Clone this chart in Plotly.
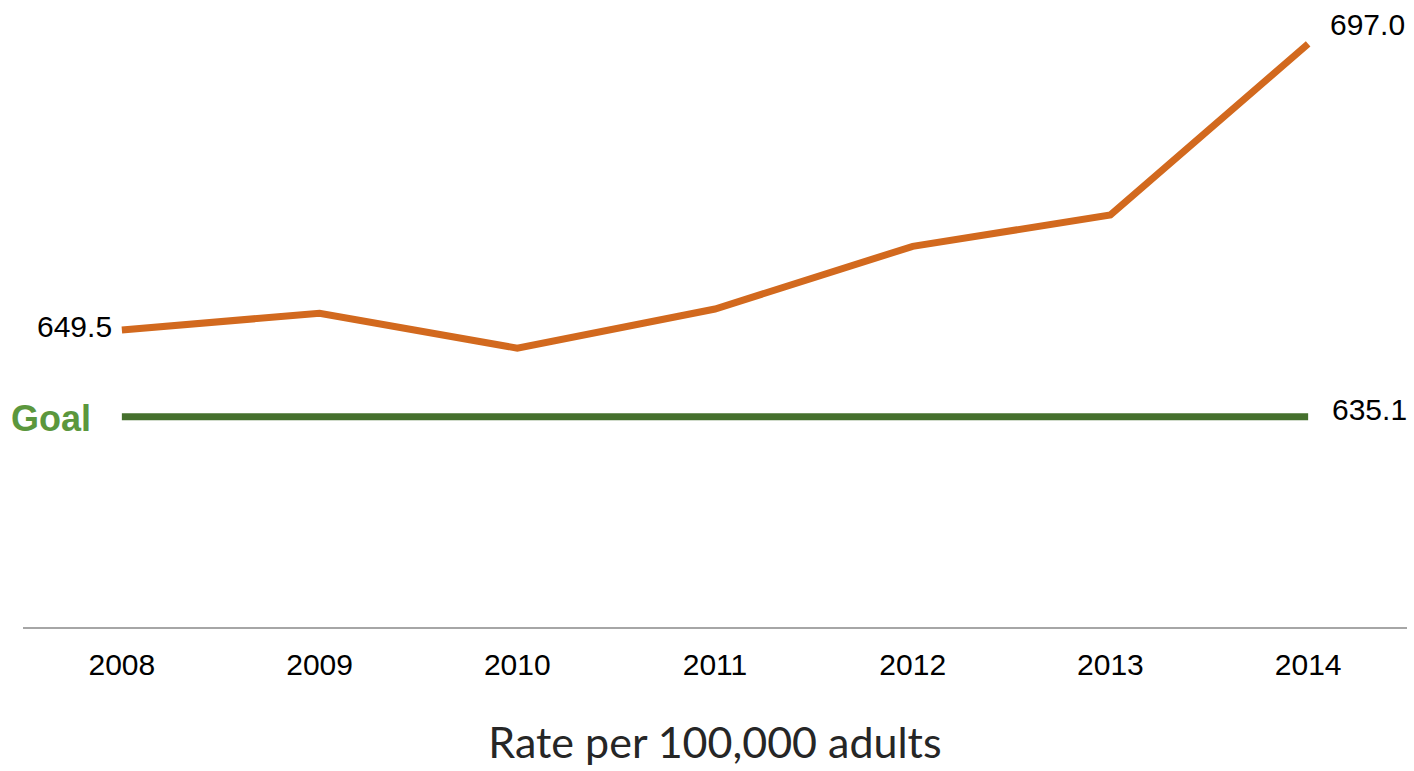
import plotly.graph_objects as go

years = ["2008", "2009", "2010", "2011", "2012", "2013", "2014"]
rates = [649.5, 652.3, 646.5, 653.0, 663.4, 668.6, 697.0]
goal = [635.1] * 7

orange = "#D2691E"
goal_line = "#45702D"
goal_text = "#5B973D"

fig = go.Figure()
fig.add_trace(go.Scatter(x=years, y=goal, mode="lines",
                         line=dict(color=goal_line, width=7), hoverinfo="skip"))
fig.add_trace(go.Scatter(x=years, y=rates, mode="lines",
                         line=dict(color=orange, width=7), hoverinfo="skip"))

first, last = 0, len(years) - 1  # category positions on the axis
lab_font = dict(family="Liberation Sans, Arial", size=30, color="#000000")
fig.add_annotation(x=first, y=rates[first], xref="x", yref="y", text=f"{rates[first]:.1f}",
                   showarrow=False, xanchor="right", yanchor="middle", xshift=-8, yshift=4,
                   font=lab_font)
fig.add_annotation(x=last, y=rates[last], xref="x", yref="y", text=f"{rates[last]:.1f}",
                   showarrow=False, xanchor="left", yanchor="middle", xshift=20, yshift=19,
                   font=lab_font)
fig.add_annotation(x=last, y=goal[last], xref="x", yref="y", text=f"{goal[last]:.1f}",
                   showarrow=False, xanchor="left", yanchor="middle", xshift=22, yshift=7,
                   font=lab_font)
fig.add_annotation(x=first, y=goal[first], xref="x", yref="y", text="<b>Goal</b>",
                   showarrow=False, xanchor="right", yanchor="middle", xshift=-29, yshift=-2,
                   font=dict(family="Liberation Sans, Arial", size=36, color=goal_text))

fig.update_layout(
    width=1414, height=771,
    margin=dict(l=23, r=7, t=0, b=144),
    paper_bgcolor="white", plot_bgcolor="white",
    showlegend=False,
    xaxis=dict(type="category", range=[-0.5, 6.5], showline=True, linecolor="#A6A6A6",
               linewidth=2, showgrid=False, zeroline=False, ticks="",
               tickfont=dict(family="Liberation Sans, Arial", size=30, color="#000000"),
               ticklabelstandoff=10,
               title=dict(text="Rate per 100,000 adults", standoff=48,
                          font=dict(family="Lato", size=43, color="#262626"))),
    yaxis=dict(range=[600.2, 704.3], showticklabels=False, showline=False,
               showgrid=False, zeroline=False, ticks=""),
)

fig.write_html("out.html")
